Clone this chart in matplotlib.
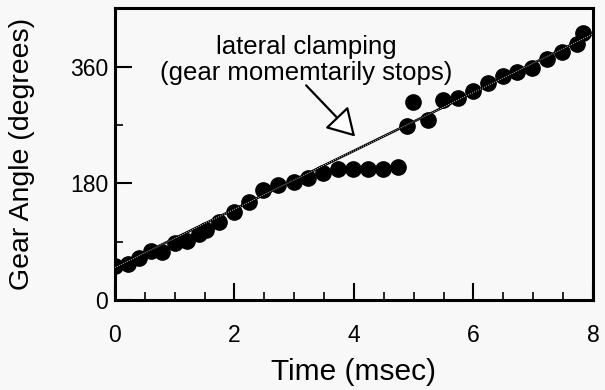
import matplotlib
matplotlib.use("Agg")
import matplotlib.pyplot as plt
from matplotlib.ticker import MultipleLocator

# ---- data ----
time_ms = [0.0, 0.22, 0.40, 0.60, 0.79, 1.00, 1.20, 1.40, 1.52, 1.74,
           1.99, 2.24, 2.48, 2.73, 3.00, 3.23, 3.48, 3.73, 3.98, 4.23,
           4.49, 4.74, 4.89, 4.99, 5.24, 5.49, 5.74, 5.99, 6.24, 6.49,
           6.73, 6.98, 7.23, 7.48, 7.73, 7.83]
angle_deg = [52, 55, 65, 75, 74, 88, 91, 102, 108, 120,
             135, 151, 169, 177, 182, 188, 195, 202, 202, 202,
             202, 205, 269, 305, 277, 308, 311, 323, 334, 346,
             351, 357, 372, 383, 394, 411]

fit_x = [0, 8]
fit_y = [50, 410]

x_ticks = [0, 2, 4, 6, 8]
y_ticks = [0, 180, 360]

note = "lateral clamping\n(gear momemtarily stops)"
note_xy = (3.2, 370)
arrow_from = (3.2, 331)
arrow_to = (4.02, 252)

plt.rcParams['font.family'] = ['Liberation Sans', 'DejaVu Sans']

fig = plt.figure(figsize=(6.05, 3.9), dpi=100)
fig.patch.set_facecolor('#f8f8f8')
ax = fig.add_axes([0.190, 0.231, 0.790, 0.748])
ax.set_facecolor('#f8f8f8')

# fitted line: black with a white dotted core
ax.plot(fit_x, fit_y, '-', color='black', lw=1.8, zorder=3)
ax.plot(fit_x, fit_y, ':', color='white', lw=0.6, zorder=4)

ax.plot(time_ms, angle_deg, 'o', color='black', ms=11, zorder=2)

ax.text(note_xy[0], note_xy[1], note, ha='center', va='center',
        fontsize=18.5, linespacing=1.1)
ax.annotate("", xy=arrow_to, xytext=arrow_from,
            arrowprops=dict(arrowstyle='-|>,head_length=0.85,head_width=0.5',
                            mutation_scale=20, fc='white', ec='black', lw=1.6,
                            shrinkA=0, shrinkB=0))

ax.set_xlim(0, 8)
ax.set_ylim(0, 450)
ax.set_xticks(x_ticks)
ax.set_yticks(y_ticks)
ax.xaxis.set_minor_locator(MultipleLocator(0.5))
ax.yaxis.set_minor_locator(MultipleLocator(90))
ax.tick_params(which='major', direction='in', length=12, width=1.5,
               labelsize=16.5, top=False, right=False)
ax.tick_params(axis='x', which='major', pad=17)
ax.tick_params(axis='y', which='major', pad=5)
ax.tick_params(which='minor', direction='in', length=6, width=1.2,
               top=False, right=False)
for s in ax.spines.values():
    s.set_linewidth(2.2)

ax.set_xlabel("Time (msec)", fontsize=21.5)
ax.set_ylabel("Gear Angle (degrees)", fontsize=20.5)
ax.xaxis.set_label_coords(0.5, -0.2)
ax.yaxis.set_label_coords(-0.168, 0.5)

fig.savefig("out.png", dpi=100, facecolor=fig.get_facecolor())
